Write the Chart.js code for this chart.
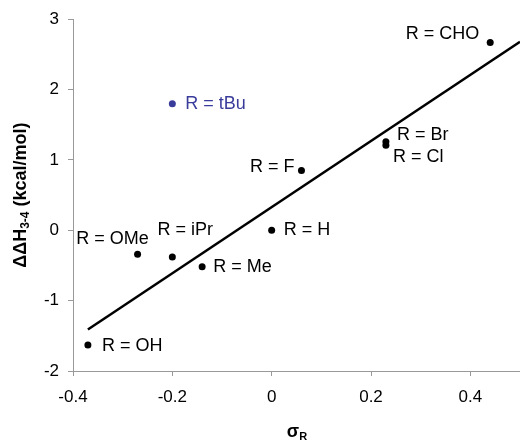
<!DOCTYPE html>
<html>
<head>
<meta charset="utf-8">
<script src="https://cdn.jsdelivr.net/npm/chart.js@4/dist/chart.umd.min.js"></script>
<style>
  html, body { margin: 0; padding: 0; background: #fff; }
  #wrap { width: 520px; height: 445px; }
</style>
</head>
<body>
<div id="wrap"><canvas id="myChart"></canvas></div>
<script>
// data
var substituents = ['tBu', 'CHO', 'Br', 'Cl', 'F', 'H', 'OMe', 'iPr', 'Me', 'OH'];
var sigmaR = [-0.20, 0.44, 0.23, 0.23, 0.06, 0.00, -0.27, -0.20, -0.14, -0.37];
var ddH = [1.80, 2.67, 1.26, 1.21, 0.85, 0.00, -0.34, -0.38, -0.52, -1.63];
var fitX = [-0.37, 0.5];
var fitY = [-1.41, 2.68];
var xTicks = [-0.4, -0.2, 0, 0.2, 0.4];
var yTicks = [-2, -1, 0, 1, 2, 3];
var outlier = 'tBu';

// label placement (pixels, relative to the point)
var labelPos = {
    tBu: { dx: 13, dy: 0, align: 'left' },
    CHO: { dx: -11, dy: -8, align: 'right' },
    Br: { dx: 11, dy: -7, align: 'left' },
    Cl: { dx: 7, dy: 12, align: 'left' },
    F: { dx: -7, dy: -3, align: 'right' },
    H: { dx: 12, dy: 0, align: 'left' },
    OMe: { dx: -25, dy: -15, align: 'center' },
    iPr: { dx: 13, dy: -27, align: 'center' },
    Me: { dx: 11, dy: 0, align: 'left' },
    OH: { dx: 14, dy: 1, align: 'left' }
};

var blue = '#3a3c9c';
var black = '#000';

var mainPts = [], outPts = [];
substituents.forEach(function (s, i) {
    var p = { x: sigmaR[i], y: ddH[i], name: s };
    if (s === outlier) outPts.push(p); else mainPts.push(p);
});
var fitPts = fitX.map(function (x, i) { return { x: x, y: fitY[i] }; });

var labelPlugin = {
    id: 'labels',
    afterDatasetsDraw: function (chart) {
        var ctx = chart.ctx;
        var xs = chart.scales.x, ys = chart.scales.y;
        ctx.save();
        ctx.font = '18px "Liberation Sans", Arial, sans-serif';
        ctx.textBaseline = 'middle';
        substituents.forEach(function (s, i) {
            var pos = labelPos[s];
            ctx.fillStyle = s === outlier ? blue : black;
            ctx.textAlign = pos.align;
            ctx.fillText('R = ' + s, xs.getPixelForValue(sigmaR[i]) + pos.dx, ys.getPixelForValue(ddH[i]) + pos.dy);
        });

        // y title: ΔΔH3-4 (kcal/mol)
        ctx.fillStyle = black;
        ctx.translate(20, (chart.chartArea.top + chart.chartArea.bottom) / 2);
        ctx.rotate(-Math.PI / 2);
        var big = 'bold 18px "Liberation Sans", Arial, sans-serif';
        var small = 'bold 12px "Liberation Sans", Arial, sans-serif';
        ctx.font = big;
        var w1 = ctx.measureText('ΔΔH').width;
        var w3 = ctx.measureText(' (kcal/mol)').width;
        ctx.font = small;
        var w2 = ctx.measureText('3-4').width;
        var x0 = -(w1 + w2 + w3) / 2;
        ctx.textAlign = 'left';
        ctx.textBaseline = 'alphabetic';
        ctx.font = big;
        ctx.fillText('ΔΔH', x0, 6);
        ctx.font = small;
        ctx.fillText('3-4', x0 + w1, 9);
        ctx.font = big;
        ctx.fillText(' (kcal/mol)', x0 + w1 + w2, 6);
        ctx.restore();

        // x title: σR
        ctx.save();
        ctx.fillStyle = black;
        ctx.textBaseline = 'alphabetic';
        ctx.textAlign = 'left';
        ctx.font = 'bold 18px "Liberation Sans", Arial, sans-serif';
        var ws = ctx.measureText('σ').width;
        ctx.font = 'bold 11px "Liberation Sans", Arial, sans-serif';
        var wr = ctx.measureText('R').width;
        var cx = 297;
        ctx.font = 'bold 18px "Liberation Sans", Arial, sans-serif';
        ctx.fillText('σ', cx - (ws + wr) / 2, 437);
        ctx.font = 'bold 11px "Liberation Sans", Arial, sans-serif';
        ctx.fillText('R', cx - (ws + wr) / 2 + ws, 440);
        ctx.restore();
    }
};

var ctx = document.getElementById('myChart').getContext('2d');
var chart = new Chart(ctx, {
    type: 'scatter',
    data: {
        datasets: [{
            label: 'fit',
            data: fitPts,
            showLine: true,
            borderColor: black,
            borderWidth: 2.5,
            pointRadius: 0,
            fill: false
        }, {
            label: 'substituents',
            data: mainPts,
            backgroundColor: black,
            borderColor: black,
            pointRadius: 3.5,
            borderWidth: 0
        }, {
            label: outlier,
            data: outPts,
            backgroundColor: blue,
            borderColor: blue,
            pointRadius: 3.5,
            borderWidth: 0
        }]
    },
    options: {
        responsive: true,
        maintainAspectRatio: false,
        animation: false,
        layout: { autoPadding: false, padding: { top: 19, right: -3, left: 0, bottom: 0 } },
        plugins: {
            legend: { display: false },
            tooltip: { enabled: false }
        },
        scales: {
            x: {
                type: 'linear',
                min: -0.4,
                max: 0.5,
                afterBuildTicks: function (scale) {
                    scale.ticks = xTicks.map(function (v) { return { value: v }; });
                },
                afterFit: function (scale) {
                    scale.height = 74;
                    scale.paddingRight = -3;
                },
                grid: { drawOnChartArea: false, drawTicks: true, tickLength: 5, color: '#999' },
                border: { display: true, color: '#999', width: 1 },
                ticks: {
                    color: black,
                    padding: 11,
                    font: { family: '"Liberation Sans", Arial, sans-serif', size: 17 },
                    callback: function (v) { return String(v); }
                }
            },
            y: {
                type: 'linear',
                min: -2,
                max: 3,
                afterBuildTicks: function (scale) {
                    scale.ticks = yTicks.map(function (v) { return { value: v }; });
                },
                afterFit: function (scale) { scale.width = 73; },
                grid: { drawOnChartArea: false, drawTicks: true, tickLength: 5, color: '#999' },
                border: { display: true, color: '#999', width: 1 },
                ticks: {
                    color: black,
                    padding: 9,
                    font: { family: '"Liberation Sans", Arial, sans-serif', size: 17 },
                    callback: function (v) { return String(v); }
                }
            }
        }
    },
    plugins: [labelPlugin]
});
</script>
</body>
</html>
